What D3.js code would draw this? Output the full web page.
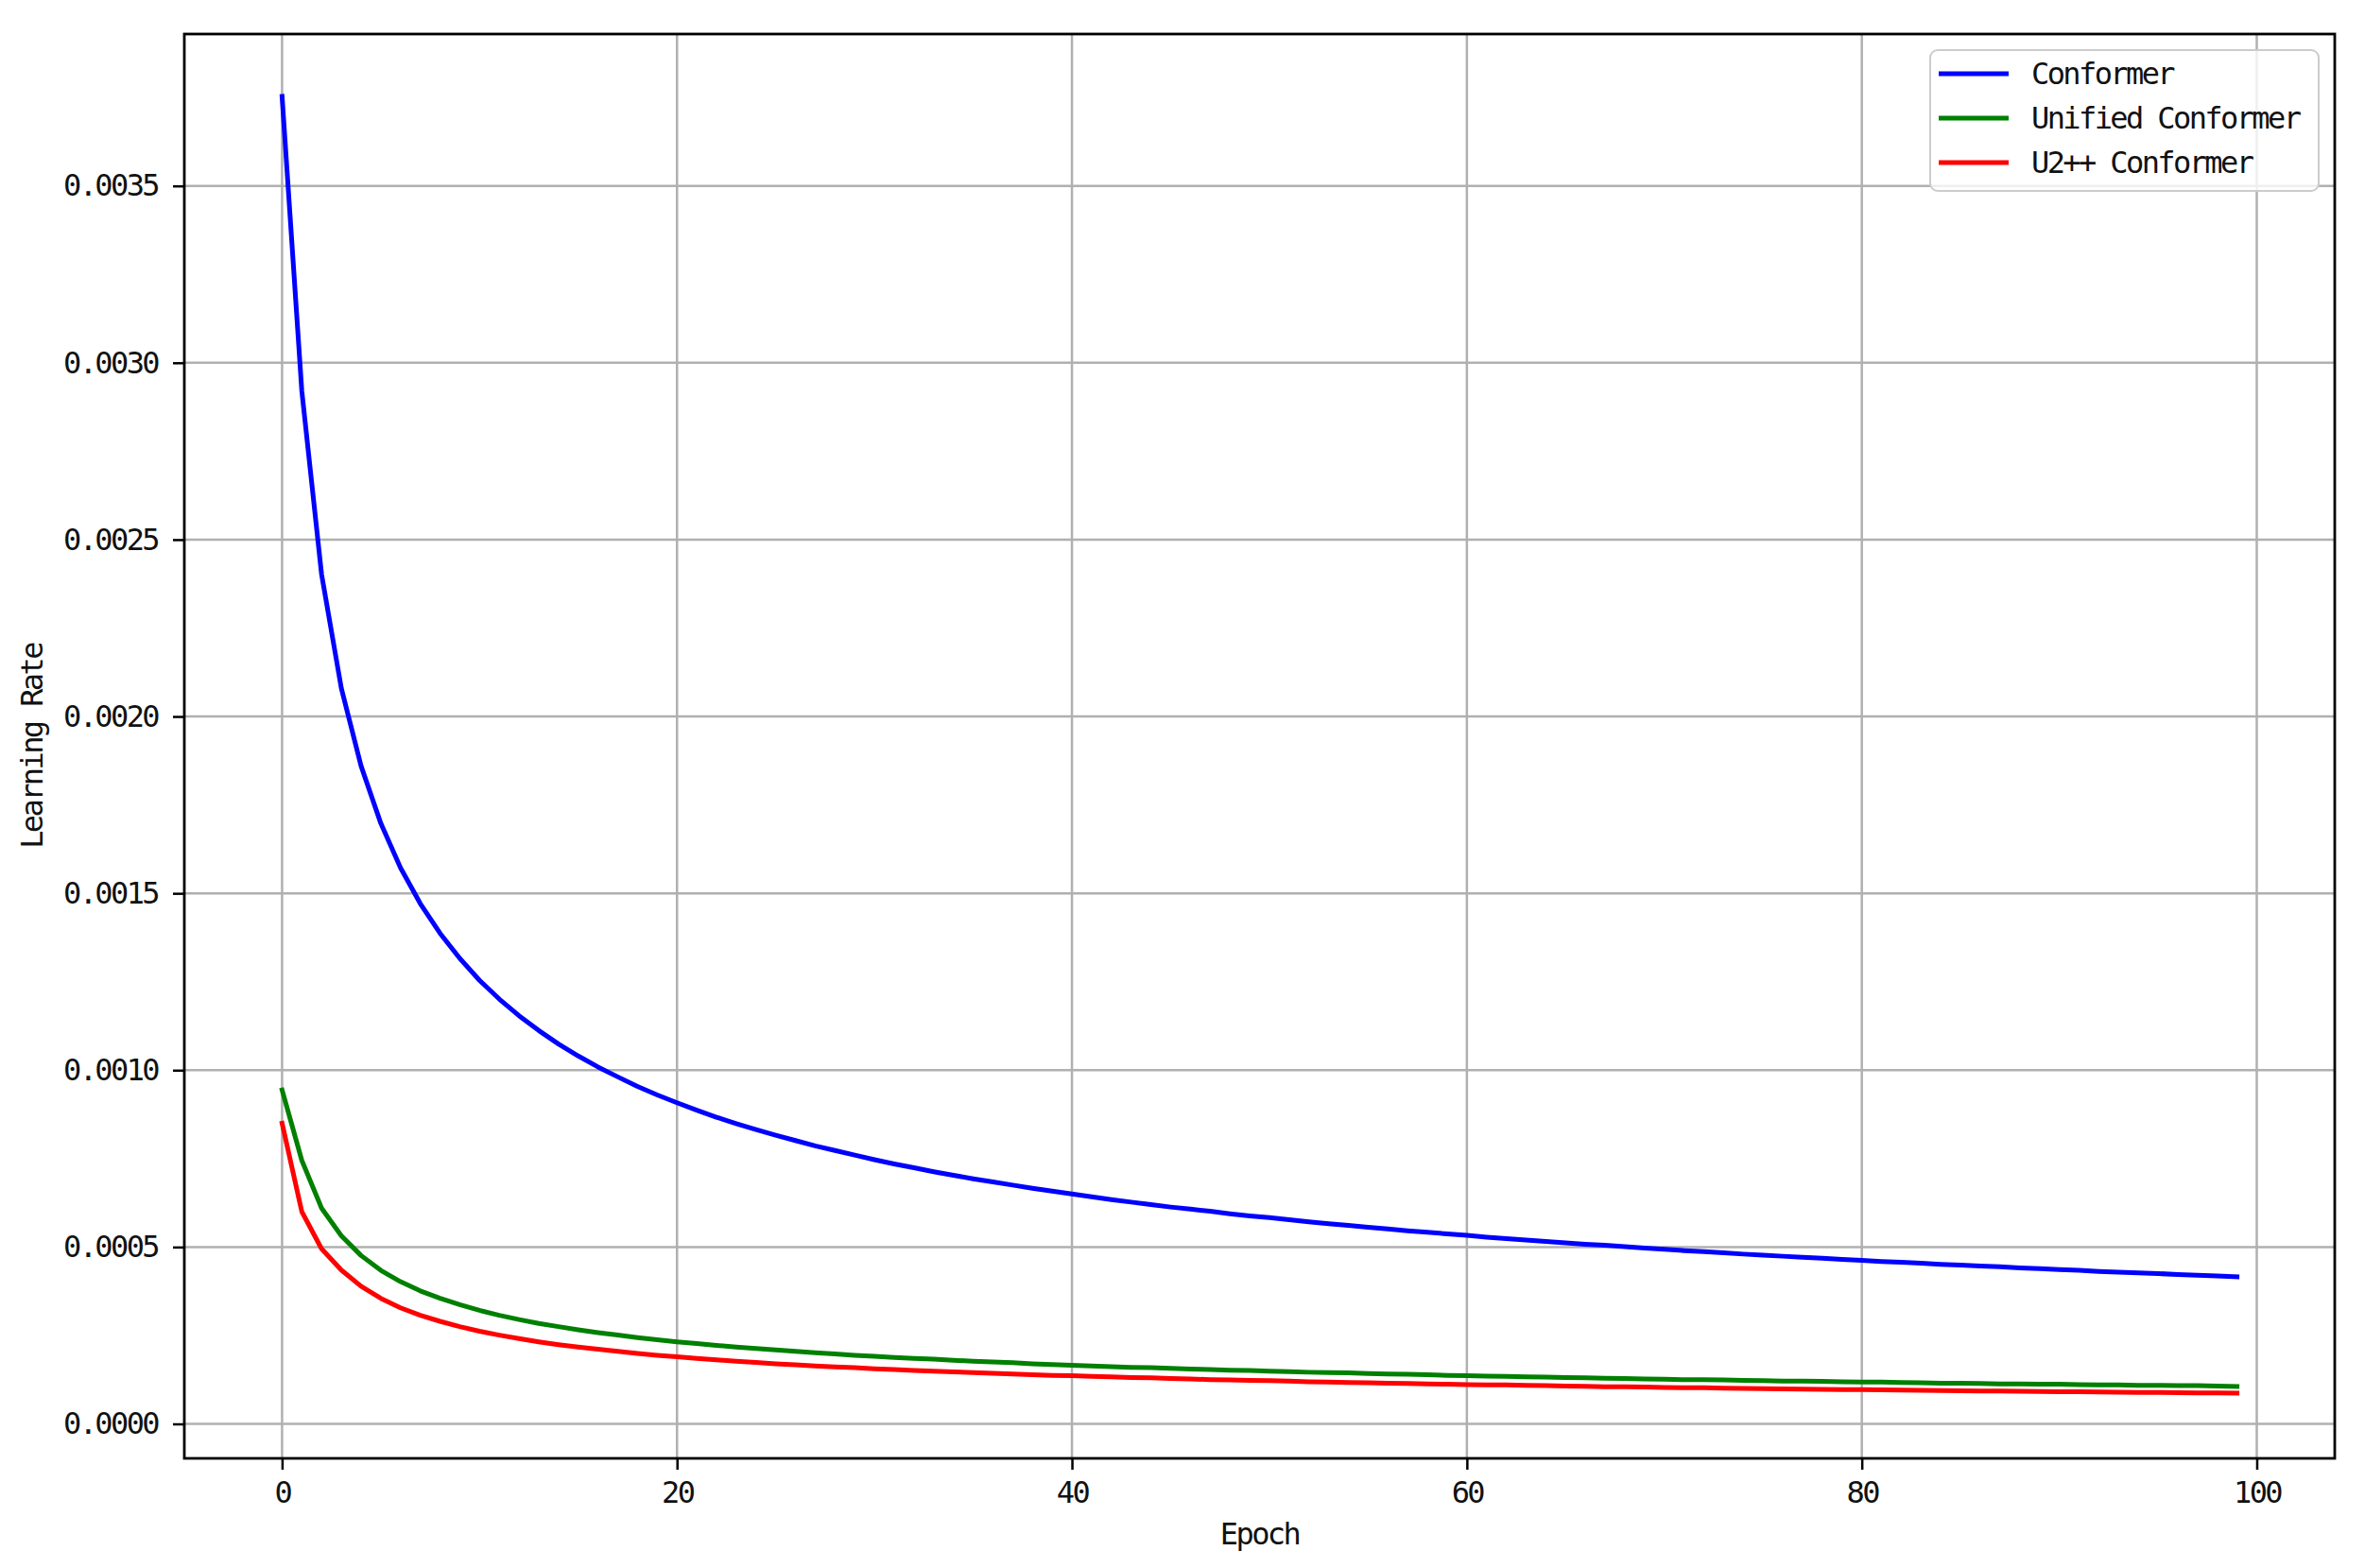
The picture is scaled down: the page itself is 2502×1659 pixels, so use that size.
<!DOCTYPE html>
<html lang="en">
<head>
<meta charset="UTF-8">
<title>Learning Rate</title>
<script src="https://cdn.jsdelivr.net/npm/d3@7"></script>
<style>
  body { margin: 0; background: #fff; }
  text { font-family: "DejaVu Sans Mono", monospace; }
</style>
</head>
<body>
<svg width="2502" height="1659"></svg>
<script>
// learning rate per epoch
var epochs = d3.range(100);

var conformer = [
  0.003753, 0.002920, 0.002402, 0.002080, 0.001860, 0.001698, 0.001572, 0.001471, 0.001387, 0.001316,
  0.001254, 0.001201, 0.001154, 0.001112, 0.001074, 0.001040, 0.001009, 0.000981, 0.000954, 0.000930,
  0.000908, 0.000887, 0.000867, 0.000849, 0.000832, 0.000816, 0.000801, 0.000786, 0.000773, 0.000760,
  0.000747, 0.000735, 0.000724, 0.000713, 0.000703, 0.000693, 0.000684, 0.000675, 0.000666, 0.000658,
  0.000650, 0.000642, 0.000634, 0.000627, 0.000620, 0.000613, 0.000607, 0.000601, 0.000594, 0.000588,
  0.000583, 0.000577, 0.000571, 0.000566, 0.000561, 0.000556, 0.000551, 0.000546, 0.000542, 0.000537,
  0.000533, 0.000528, 0.000524, 0.000520, 0.000516, 0.000512, 0.000508, 0.000505, 0.000501, 0.000497,
  0.000494, 0.000490, 0.000487, 0.000484, 0.000480, 0.000477, 0.000474, 0.000471, 0.000468, 0.000465,
  0.000462, 0.000459, 0.000457, 0.000454, 0.000451, 0.000449, 0.000446, 0.000444, 0.000441, 0.000439,
  0.000436, 0.000434, 0.000431, 0.000429, 0.000427, 0.000425, 0.000422, 0.000420, 0.000418, 0.000416
];

var unified = [
  0.000944, 0.000745, 0.000610, 0.000532, 0.000476, 0.000434, 0.000402, 0.000376, 0.000355, 0.000337,
  0.000321, 0.000307, 0.000295, 0.000284, 0.000275, 0.000266, 0.000258, 0.000251, 0.000244, 0.000238,
  0.000232, 0.000227, 0.000222, 0.000217, 0.000213, 0.000209, 0.000205, 0.000201, 0.000198, 0.000194,
  0.000191, 0.000188, 0.000185, 0.000183, 0.000180, 0.000177, 0.000175, 0.000173, 0.000170, 0.000168,
  0.000166, 0.000164, 0.000162, 0.000160, 0.000159, 0.000157, 0.000155, 0.000154, 0.000152, 0.000151,
  0.000149, 0.000148, 0.000146, 0.000145, 0.000144, 0.000142, 0.000141, 0.000140, 0.000139, 0.000137,
  0.000136, 0.000135, 0.000134, 0.000133, 0.000132, 0.000131, 0.000130, 0.000129, 0.000128, 0.000127,
  0.000126, 0.000125, 0.000125, 0.000124, 0.000123, 0.000122, 0.000121, 0.000121, 0.000120, 0.000119,
  0.000118, 0.000118, 0.000117, 0.000116, 0.000115, 0.000115, 0.000114, 0.000113, 0.000113, 0.000112,
  0.000112, 0.000111, 0.000110, 0.000110, 0.000109, 0.000109, 0.000108, 0.000108, 0.000107, 0.000106
];

var u2pp = [
  0.000850, 0.000600, 0.000495, 0.000435, 0.000389, 0.000355, 0.000328, 0.000307, 0.000290, 0.000275,
  0.000262, 0.000251, 0.000241, 0.000232, 0.000224, 0.000217, 0.000211, 0.000205, 0.000199, 0.000194,
  0.000190, 0.000185, 0.000181, 0.000177, 0.000174, 0.000170, 0.000167, 0.000164, 0.000161, 0.000159,
  0.000156, 0.000154, 0.000151, 0.000149, 0.000147, 0.000145, 0.000143, 0.000141, 0.000139, 0.000137,
  0.000136, 0.000134, 0.000133, 0.000131, 0.000130, 0.000128, 0.000127, 0.000125, 0.000124, 0.000123,
  0.000122, 0.000121, 0.000119, 0.000118, 0.000117, 0.000116, 0.000115, 0.000114, 0.000113, 0.000112,
  0.000111, 0.000110, 0.000110, 0.000109, 0.000108, 0.000107, 0.000106, 0.000105, 0.000105, 0.000104,
  0.000103, 0.000102, 0.000102, 0.000101, 0.000100, 0.0000997, 0.0000990, 0.0000984, 0.0000978, 0.0000972,
  0.0000966, 0.0000960, 0.0000954, 0.0000948, 0.0000943, 0.0000937, 0.0000932, 0.0000926, 0.0000921, 0.0000916,
  0.0000911, 0.0000906, 0.0000901, 0.0000896, 0.0000892, 0.0000887, 0.0000882, 0.0000878, 0.0000873, 0.0000869
];

var seriesNames = ["Conformer", "Unified Conformer", "U2++ Conformer"];
var seriesColors = ["#0000ff", "#008000", "#ff0000"];
var xTicks = [0, 20, 40, 60, 80, 100];
var yTicks = [0, 0.0005, 0.0010, 0.0015, 0.0020, 0.0025, 0.0030, 0.0035];

var series = [conformer, unified, u2pp];

// plot area edges in px
var axL = 195, axR = 2470, axT = 36, axB = 1543;

var x = d3.scaleLinear().domain([-4.95, 103.95]).range([axL, axR]);
var y = d3.scaleLinear().domain([-0.0000975, 0.0039294]).range([axB, axT]);

var svg = d3.select("svg");

// grid
svg.append("g").selectAll("line")
    .data(xTicks)
    .join("line")
    .attr("x1", function(d) { return x(d); })
    .attr("x2", function(d) { return x(d); })
    .attr("y1", axT)
    .attr("y2", axB)
    .attr("stroke", "#b0b0b0")
    .attr("stroke-width", 2.5);

svg.append("g").selectAll("line")
    .data(yTicks)
    .join("line")
    .attr("x1", axL)
    .attr("x2", axR)
    .attr("y1", function(d) { return y(d); })
    .attr("y2", function(d) { return y(d); })
    .attr("stroke", "#b0b0b0")
    .attr("stroke-width", 2.5);

// curves
var line = d3.line()
    .x(function(d, i) { return x(epochs[i]); })
    .y(function(d) { return y(d); });

svg.append("g").selectAll("path")
    .data(series)
    .join("path")
    .attr("d", line)
    .attr("fill", "none")
    .attr("stroke", function(d, i) { return seriesColors[i]; })
    .attr("stroke-width", 5)
    .attr("stroke-linejoin", "round")
    .attr("stroke-linecap", "square");

// axes
var xAxis = svg.append("g")
    .attr("transform", "translate(0," + axB + ")")
    .call(d3.axisBottom(x).tickValues(xTicks).tickSize(12).tickPadding(12));

var yAxis = svg.append("g")
    .attr("transform", "translate(" + axL + ",0)")
    .call(d3.axisLeft(y).tickValues(yTicks).tickFormat(d3.format(".4f")).tickSize(12).tickPadding(16));

[xAxis, yAxis].forEach(function(g) {
    g.select(".domain").remove();
    g.selectAll(".tick line").attr("stroke", "#000").attr("stroke-width", 2.5);
    g.selectAll(".tick text")
        .attr("fill", "#111")
        .style("font-size", "32px")
        .style("letter-spacing", "-2.6px")
        .style("font-family", "'DejaVu Sans Mono', monospace");
});

svg.append("rect")
    .attr("x", axL)
    .attr("y", axT)
    .attr("width", axR - axL)
    .attr("height", axB - axT)
    .attr("fill", "none")
    .attr("stroke", "#000")
    .attr("stroke-width", 2.8);

// axis labels
svg.append("text")
    .attr("x", (axL + axR) / 2)
    .attr("y", 1634)
    .attr("text-anchor", "middle")
    .style("font-size", "32px")
    .style("letter-spacing", "-2.6px")
    .attr("fill", "#111")
    .text("Epoch");

svg.append("text")
    .attr("transform", "translate(45," + (axT + axB) / 2 + ") rotate(-90)")
    .attr("text-anchor", "middle")
    .style("font-size", "32px")
    .style("letter-spacing", "-2.6px")
    .attr("fill", "#111")
    .text("Learning Rate");

// legend
var legend = svg.append("g");
legend.append("rect")
    .attr("x", 2042)
    .attr("y", 53)
    .attr("width", 411)
    .attr("height", 149)
    .attr("rx", 8)
    .attr("fill", "#fff")
    .attr("fill-opacity", 0.8)
    .attr("stroke", "#cccccc")
    .attr("stroke-width", 2);

var items = legend.selectAll("g.item")
    .data(seriesNames)
    .join("g")
    .attr("class", "item")
    .attr("transform", function(d, i) { return "translate(0," + (78 + i * 47) + ")"; });

items.append("line")
    .attr("x1", 2051)
    .attr("x2", 2125)
    .attr("stroke", function(d, i) { return seriesColors[i]; })
    .attr("stroke-width", 5);

items.append("text")
    .attr("x", 2149)
    .attr("y", 11)
    .style("font-size", "32px")
    .style("letter-spacing", "-2.6px")
    .attr("fill", "#111")
    .text(function(d) { return d; });
</script>
</body>
</html>
